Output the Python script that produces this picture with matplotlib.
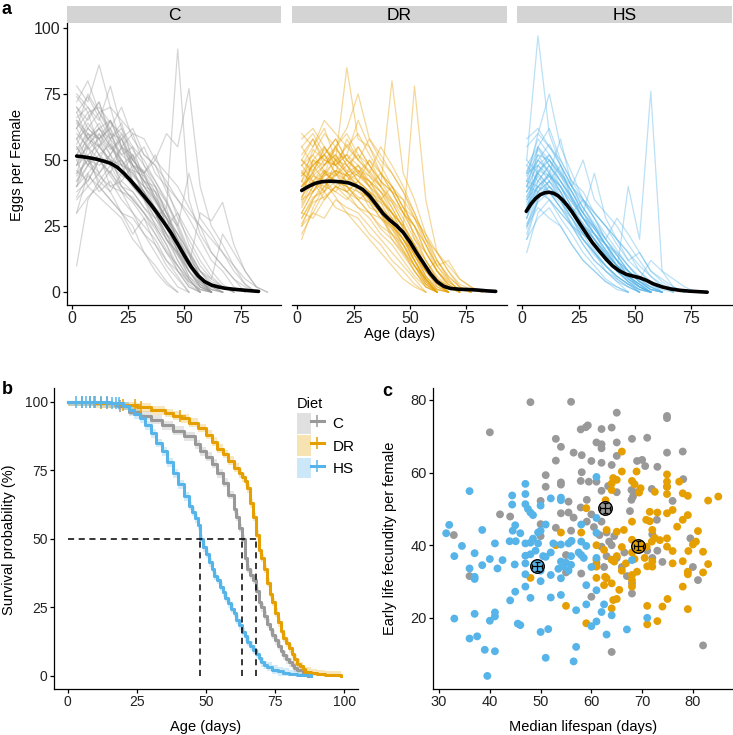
import numpy as np
import matplotlib

matplotlib.use("Agg")
import matplotlib.pyplot as plt  # noqa: E402
from matplotlib.patches import Patch  # noqa: E402
from matplotlib.lines import Line2D  # noqa: E402
from matplotlib.legend_handler import HandlerTuple  # noqa: E402

plt.rcParams["font.family"] = ["Liberation Sans", "DejaVu Sans"]

DIETS = ["C", "DR", "HS"]
COLORS = {"C": "#999999", "DR": "#E69F00", "HS": "#56B4E9"}

# ---- panel a: eggs per female, one line per female ----
AGE_GRID = [2, 7, 12, 17, 22, 27, 32, 37, 42, 47, 52, 57, 62, 67, 72, 77, 82, 87]

EGGS_C = [
    "45 58 62 55 50 42 38 30 22 12 5 0",
    "70 65 72 60 58 50 45 35 28 15 8 2 0",
    "38 42 50 45 40 35 30 25 18 10 3 0",
    "62 75 68 70 55 60 48 40 30 20 12 5 0",
    "55 48 52 40 38 30 22 15 8 2 0",
    "40 55 45 50 42 48 35 28 32 18 10 4 1 0",
    "75 70 65 78 62 55 50 42 35 25 15 8 3 0",
    "48 52 40 35 30 22 28 18 10 5 0",
    "65 60 58 62 48 52 40 38 25 30 18 10 5 2 0",
    "30 45 38 42 35 30 25 20 12 6 0",
    "58 66 72 58 64 50 55 45 40 28 20 12 6 2 0",
    "50 40 45 38 30 25 15 10 4 0",
    "72 80 68 62 70 58 52 48 38 30 22 15 8 3 0",
    "42 48 55 50 45 52 40 35 28 22 15 6 2 0",
    "10 35 42 38 45 40 35 30 20 15 8 3 0",
    "60 55 50 58 45 42 38 30 25 18 10 5 0",
    "52 62 58 65 55 50 45 52 40 35 28 20 12 8 2 0",
    "68 58 62 55 48 40 35 25 18 8 2 0",
    "45 50 42 48 40 35 30 22 15 10 5 0",
    "78 72 86 70 65 60 58 50 45 40 32 25 15 10 5 2 0",
    "35 40 36 32 28 20 15 8 3 0",
    "55 48 60 52 58 48 42 40 30 25 45 28 22 15 8 3 0",
    "62 68 55 60 50 45 38 32 28 20 12 5 0",
    "50 55 62 58 52 48 42 38 32 92 35 22 15 10 5 0",
    "40 45 50 45 55 48 45 50 60 55 77 40 25 18 10 3 0",
    "58 50 45 52 40 38 32 28 20 15 10 30 27 34 18 8 2 0",
    "65 58 52 48 55 42 38 30 22 18 12 8 5 22 15 8 2",
    "30 36 40 35 30 28 22 18 12 8 4 1 0",
    "48 60 55 65 58 62 52 48 42 35 30 25 20 15 10 5 2 0",
    "70 62 58 52 60 48 42 35 28 22 15 8 4 2 0",
    "52 58 55 50 48 45 40 32 25 15 6 1 0",
    "66 70 62 65 55 52 45 38 30 20 10 3 0",
    "44 50 48 52 46 40 36 30 22 14 6 2 0",
    "58 62 68 60 52 55 42 35 26 18 8 2 0",
    "36 44 40 46 38 34 28 22 15 8 2 0",
    "74 68 70 64 60 54 48 42 34 24 14 6 1 0",
    "48 56 60 54 58 46 44 36 30 22 12 4 0",
    "62 54 58 48 50 42 36 30 20 12 5 0",
    "40 48 44 40 42 38 32 26 20 14 8 3 0",
    "56 64 58 62 54 48 46 40 34 26 16 8 2 0",
    "68 74 66 58 62 50 44 36 28 18 10 4 0",
    "46 42 50 44 38 36 30 24 16 10 4 1 0",
    "54 60 52 56 50 44 40 34 28 20 14 6 2 0",
    "64 58 64 56 48 46 38 32 24 16 8 2 0",
    "42 52 56 48 44 42 36 28 22 16 10 5 1 0",
]

EGGS_DR = [
    "40 45 50 48 42 45 40 35 30 25 18 10 4 0",
    "25 35 40 38 45 40 35 30 20 15 8 3 0",
    "55 60 52 58 50 55 48 40 35 28 20 12 5 2 0",
    "30 38 45 50 55 60 52 45 40 32 25 15 8 3 0",
    "48 42 38 45 40 35 30 25 22 15 10 5 0",
    "35 50 55 48 52 45 50 42 38 30 22 12 5 0",
    "60 55 62 50 85 58 55 48 40 32 25 15 8 2 0",
    "22 30 28 35 32 30 25 20 15 10 5 0",
    "42 48 52 45 58 50 45 55 48 40 30 20 10 5 0",
    "38 42 35 40 38 32 28 22 18 12 6 2 0",
    "50 58 48 55 62 75 58 50 45 38 28 18 8 3 0",
    "28 35 42 38 35 40 32 30 25 20 15 8 3 0",
    "45 52 60 55 48 52 45 40 80 45 35 22 12 5 0",
    "33 40 45 42 40 35 38 30 28 22 18 10 5 2 0",
    "55 48 52 58 50 45 42 35 30 25 78 35 15 8 2 0",
    "40 45 38 50 45 55 48 42 35 30 25 18 10 4 1 0",
    "20 32 40 45 38 42 35 30 22 18 12 5 0",
    "48 55 65 60 55 50 58 52 45 38 30 20 12 6 2 0",
    "35 38 42 36 30 28 22 18 12 8 3 0",
    "45 42 48 52 45 48 40 45 38 35 28 22 15 8 3 1 0",
    "58 62 55 50 45 40 35 30 25 18 10 5 0",
    "30 28 35 40 45 42 38 35 40 32 28 20 15 10 5 2 0",
    "50 45 55 48 52 65 55 45 40 35 20 15 8 3 0",
    "38 50 45 42 38 35 30 28 25 20 14 8 12 6 2 0",
    "42 38 45 55 48 42 50 45 38 30 25 18 10 12 5 2 0",
    "25 30 38 32 30 25 20 15 10 5 2 0",
    "52 58 50 55 60 52 48 42 38 30 22 15 8 4 1 0",
    "40 48 52 45 42 48 42 38 30 25 18 12 6 2 0",
    "32 40 46 44 48 42 38 32 26 18 10 3 0",
    "44 50 48 52 46 44 40 36 28 20 12 4 0",
    "28 36 38 42 40 36 34 28 24 16 8 2 0",
    "50 46 54 50 52 48 44 38 32 24 14 6 1 0",
    "36 44 42 46 44 40 36 34 26 20 12 5 0",
    "42 54 50 48 56 50 46 40 34 26 16 6 2 0",
    "26 34 36 40 36 32 30 24 20 14 8 2 0",
    "46 40 44 50 48 44 42 36 30 22 14 8 2 0",
    "38 46 52 48 44 46 40 32 26 20 12 4 0",
    "34 42 40 44 50 46 42 38 34 26 18 8 3 0",
    "48 52 46 42 40 38 34 28 22 16 10 4 0",
    "30 38 44 46 42 40 36 32 28 22 14 6 1 0",
    "40 44 48 54 50 46 44 40 32 24 16 8 3 0",
    "44 48 42 46 44 38 36 30 24 18 10 3 0",
    "36 42 46 40 38 42 38 34 30 22 12 5 1 0",
]

EGGS_HS = [
    "30 45 40 35 28 20 15 10 5 2 0",
    "45 58 52 45 38 30 22 18 12 6 2 0",
    "20 35 42 35 25 18 12 8 4 0",
    "50 97 60 48 40 32 25 18 10 5 2 0",
    "35 40 38 32 25 20 15 10 6 3 0",
    "40 55 48 42 35 28 25 18 12 8 4 1 0",
    "28 38 45 40 32 25 20 12 8 4 0",
    "55 60 75 55 45 35 28 20 15 10 5 2 0",
    "15 30 35 28 22 15 10 5 2 0",
    "42 50 45 58 40 35 30 25 20 15 8 4 0",
    "38 45 52 45 38 30 45 28 20 12 8 3 0",
    "25 32 28 25 18 12 8 4 1 0",
    "48 55 62 50 42 38 30 25 20 15 10 6 3 0",
    "32 40 35 30 25 22 18 12 8 40 20 76 8 2 0",
    "45 48 42 38 30 25 20 15 10 5 2 0",
    "22 35 40 35 28 20 15 8 4 2 0",
    "58 62 55 50 42 35 28 20 14 8 4 1 0",
    "35 42 48 40 32 28 22 15 10 6 3 0",
    "40 38 35 30 25 18 12 8 5 2 0",
    "30 55 50 45 40 50 35 30 25 18 12 6 2 0",
    "50 45 40 35 30 22 18 12 8 4 1 0",
    "25 38 42 48 35 30 25 20 28 22 15 8 4 1 0",
    "45 52 45 38 30 35 30 25 18 12 15 8 5 2 0",
    "38 45 50 42 35 28 20 15 10 8 5 12 8 5 2 0",
    "20 28 32 25 18 12 8 4 2 0",
    "42 60 55 48 40 32 25 18 12 6 3 0",
    "33 40 45 38 30 25 22 18 15 10 6 3 1 0",
    "48 42 38 32 28 22 15 10 6 3 1 0",
    "34 46 44 40 32 26 20 14 8 4 1 0",
    "28 42 48 42 36 28 22 16 10 5 2 0",
    "40 52 50 44 38 30 24 18 12 6 3 0",
    "24 36 40 36 30 24 16 10 6 3 0",
    "44 50 46 40 34 28 22 16 12 8 4 2 0",
    "36 44 38 34 28 22 18 12 8 5 2 0",
    "30 48 52 46 38 32 26 20 14 8 4 1 0",
    "42 40 44 38 30 24 18 14 10 6 3 0",
    "26 34 38 32 26 20 14 10 6 3 1 0",
    "38 50 56 48 40 34 28 22 16 10 5 2 0",
    "46 54 48 42 36 30 24 18 12 8 4 1 0",
    "32 38 42 36 32 26 20 14 10 6 2 0",
    "36 46 50 44 36 28 22 16 10 6 3 1 0",
    "28 40 44 40 34 28 24 18 14 8 4 2 0",
    "40 48 44 36 30 24 20 14 8 4 2 0",
]

# smoothed mean trajectories
MEAN_AGE_C = [2, 5, 8, 11, 14, 17, 20, 23, 26, 29, 32, 35, 38, 41, 44, 47, 50, 53, 56,
              59, 62, 65, 68, 72, 76, 80, 83]
MEAN_C = [51.5, 51.2, 50.8, 50.3, 49.6, 48.8, 47.3, 45.0, 42.3, 39.3, 36.3, 33.2, 29.8,
          26.2, 22.5, 18.2, 13.8, 9.6, 6.3, 4.0, 2.7, 2.0, 1.5, 1.1, 0.8, 0.5, 0.3]
MEAN_AGE_DR = [2, 5, 8, 11, 14, 17, 20, 23, 26, 29, 32, 35, 38, 41, 44, 47, 50, 53, 56,
               59, 62, 65, 68, 72, 76, 80, 84, 88]
MEAN_DR = [38.5, 40.0, 41.2, 41.8, 42.0, 41.9, 41.7, 41.3, 40.3, 38.9, 36.5, 33.2, 29.8,
           27.3, 25.2, 22.6, 19.0, 14.8, 11.0, 7.0, 4.0, 2.2, 1.4, 1.1, 1.0, 0.8, 0.5, 0.3]
MEAN_AGE_HS = [1.8, 4, 6, 8, 10, 12, 14, 16, 18, 20, 22, 25, 28, 31, 34, 37, 40, 43, 46,
               49, 52, 55, 58, 62, 66, 70, 74, 78, 82]
MEAN_HS = [30.6, 33.5, 35.5, 36.9, 37.6, 37.8, 37.4, 36.4, 34.8, 32.8, 30.5, 26.6, 22.7,
           18.9, 15.7, 12.7, 10.0, 8.1, 6.8, 6.1, 5.5, 4.5, 3.2, 2.0, 1.2, 0.7, 0.4, 0.2,
           0.0]

# ---- panel b: Kaplan-Meier survival (%) ----
SURV_AGE_C = [0, 12, 18, 22, 26, 30, 34, 38, 42, 46, 48, 50, 52, 54, 56, 58, 60, 61,
              62, 63, 64, 65, 66, 67, 68, 69, 70, 71, 72, 73, 74, 75, 76, 77, 78, 79,
              80, 81, 82, 83, 85, 87]
SURV_C = [100, 99.5, 98.5, 96.5, 95, 93.5, 91.5, 89.5, 87.5, 84.5, 82, 80, 77.5, 74,
          70.5, 66, 61, 58, 54, 50, 43, 39, 37, 35, 31, 27, 25, 22, 19, 17, 15, 13,
          11, 9, 7.5, 6, 5, 4, 3, 2, 1, 0]
SURV_AGE_DR = [0, 10, 20, 25, 30, 35, 38, 41, 44, 47, 50, 52, 54, 56, 58, 60, 62, 63,
               64, 65, 66, 67, 68, 69, 70, 71, 72, 73, 74, 75, 76, 77, 78, 79, 80, 81,
               82, 83, 84, 85, 86, 88, 90, 93, 99]
SURV_DR = [100, 99.5, 98.8, 98, 97, 96, 95, 94, 92.5, 90.5, 88, 85.5, 83, 81, 78.5,
           76, 74, 72.5, 71, 68.5, 63, 58, 51.5, 46, 43, 39, 34, 30, 27, 23, 19.5,
           16.5, 14, 12, 10, 8, 6, 4.5, 3.5, 2.5, 1.5, 1, 0.6, 0.3, 0]
SURV_AGE_HS = [0, 15, 20, 22, 24, 26, 28, 30, 32, 34, 36, 38, 40, 42, 44, 45, 46, 47,
               48, 49, 50, 51, 52, 53, 54, 55, 56, 57, 58, 59, 60, 61, 62, 63, 64, 65,
               66, 67, 68, 69, 70, 71, 72, 74, 76, 78, 80, 83, 86, 88]
SURV_HS = [100, 99.5, 98.5, 97, 95.5, 94, 91.5, 88.5, 85, 82, 78, 74, 70, 65.5, 62,
           60, 57.5, 55, 50, 47, 44.5, 41.5, 39, 36.5, 35, 32.5, 30.5, 28.5, 26.5,
           24.5, 23, 20.5, 18.5, 16, 14.5, 12.5, 11, 9.5, 8, 6.5, 5, 4, 3.3, 2.3, 1.6,
           1.1, 0.7, 0.4, 0.2, 0]
CENSOR_C = [5, 8, 10, 14, 19]
CENSOR_DR = [12, 20, 24.2, 26.5, 40.5]
CENSOR_HS = [3, 5, 6.5, 8, 9.5, 12, 14, 16, 17.5, 18.5]
MEDIAN_LIFESPAN = {"C": 63, "DR": 68, "HS": 48}

# ---- panel c: per-cohort median lifespan vs early fecundity ----
C_X = [48, 56, 40, 65, 74.9, 74.9, 57.9, 58.9, 59.3, 62, 64, 53, 61, 62, 62, 54, 65, 68,
       71, 56.5, 58.1, 53, 60, 62, 64, 65, 69, 70, 70.6, 73, 74.9, 78, 58.1, 57.9, 59.5,
       61, 51, 54, 54, 51, 63.3, 62, 65, 67.9, 69, 71.9, 74.9, 78.1, 76, 67.9, 68.2,
       72.9, 67.6, 59.1, 59.1, 57.9, 56.5, 55.5, 54, 55.5, 50, 50, 44, 42, 53, 32.9, 36,
       50, 56, 55, 58, 55, 62, 64, 63, 61, 61.6, 60, 64, 68, 68, 67, 66, 71, 72, 73, 74,
       80, 81, 79.5, 82, 60.5, 63.5, 65, 62.5, 66.5, 72, 60, 62, 56, 64.5, 63]
C_Y = [79.4, 79.5, 71.1, 76.5, 75.6, 75, 71.9, 72.5, 73, 72, 72.4, 69.3, 68.3, 67.8,
       66.7, 67.1, 68.3, 69.3, 69.6, 65.5, 64.8, 63.3, 63.2, 62.7, 62.1, 64.6, 63.2,
       63.5, 61.8, 61.6, 65.5, 65.8, 60.1, 57.7, 57.5, 57.5, 59.3, 57.3, 56.7, 56.1,
       56.3, 55, 54.6, 55.2, 54.6, 55.5, 56.1, 58.2, 52.2, 52.5, 53.4, 47, 49.4, 52.5,
       46.5, 50.4, 47.6, 49, 48.8, 52, 52.2, 45.8, 47.9, 48.5, 44.8, 42.8, 31.5, 42.5,
       41.1, 37.3, 32.2, 32.5, 39.6, 40, 37, 35, 42.8, 25.8, 10.6, 26.7, 29.5, 31.5, 34,
       38.5, 36.5, 38.5, 35.4, 34, 30.4, 41.9, 12.4, 45, 41, 36.5, 34, 38, 43, 48.5,
       46.5, 44, 42.5, 43.5]

DR_X = [66, 66, 68.9, 64.3, 65, 64, 64, 68, 68.5, 69.7, 69.4, 72.5, 74.9, 74.9, 74.9,
        74.9, 77.3, 78, 79, 83, 85, 74.9, 76, 78, 79, 76.9, 73, 71.5, 71.5, 70.8, 72, 63,
        65, 59, 62.8, 81, 68, 66.4, 72.5, 73.5, 74.9, 70.9, 71.9, 74.9, 76, 79.1, 78, 79,
        79, 78, 80, 80.6, 82, 82, 83, 79, 75, 74, 73, 71, 71, 72, 72, 71, 69, 68, 68, 68,
        66.8, 65.5, 64.3, 65, 64, 64, 62.5, 63, 61, 62.7, 61, 61, 62.5, 64, 65, 64.5, 59,
        55, 54, 53, 48, 58, 61, 66, 68, 68, 69, 76, 66, 68.5, 70.5]
DR_Y = [65.8, 60.3, 60.3, 58.5, 58, 57, 55.2, 57.7, 56.8, 55.7, 54.5, 54.7, 59.5, 57.5,
        56.1, 54.1, 57.5, 54.3, 53.6, 52.3, 53.4, 48.8, 49.7, 47, 48.3, 45.1, 49, 49.2,
        46.6, 47, 44.2, 44.2, 43.7, 50.2, 52.4, 43.9, 46.5, 44.2, 42, 41.4, 41.9, 39.6,
        41, 39.6, 38.4, 38.4, 35.6, 32.7, 32, 28.6, 40.2, 41, 38.2, 32.5, 34.8, 22.4,
        25.2, 23.1, 19.1, 18.2, 23.3, 35.5, 34.1, 34.2, 32.7, 31.8, 30.4, 28.6, 35, 27.7,
        24.9, 25.2, 22.6, 29.5, 29, 30.9, 31, 31.3, 36, 34.1, 38.7, 36, 37, 35.5, 18.5,
        23.3, 43.5, 40, 31, 43.5, 40, 39.5, 41.5, 38, 39, 35, 33, 36.2, 36.5]

HS_X = [36, 47, 44.4, 47, 44.4, 47, 47.5, 48, 48.5, 50, 52, 54, 54, 61, 32, 31.4, 38.5,
        44.5, 45, 43.9, 45.1, 46, 47, 48, 48.5, 49.5, 49.5, 50, 51, 52.5, 54, 55.5, 56.1,
        58, 61, 61, 58, 59, 57.5, 58, 33, 34.5, 37, 36, 37, 37, 38.5, 40, 41.5, 42.5, 41,
        44.9, 47, 47, 48, 47, 47, 45, 44, 48, 50, 52, 52, 54, 54, 51, 52, 54, 54.5, 55,
        55.5, 56, 53.5, 57, 59, 59, 61, 62, 62.5, 60, 61, 64, 63, 57, 56.5, 51, 51.5, 50,
        45.5, 46, 41, 41, 40, 37, 33, 36, 37.5, 39, 41, 39.5, 67, 71, 68, 60, 58.5, 56,
        61, 49, 50.5, 50]
HS_Y = [54.9, 56.9, 53.7, 54.1, 51.2, 51.3, 50, 49, 48.3, 50.9, 52.9, 53.1, 52.4, 58.8,
        45.6, 43.3, 44.2, 44, 45.5, 41.1, 41.1, 43.3, 40.5, 40.7, 41.8, 40.5, 43.5, 44,
        45.7, 40.5, 40.2, 40.5, 41.2, 45.7, 47.5, 43.4, 41, 39.8, 38, 37.3, 37, 39.8,
        37.8, 33.6, 31.3, 30.7, 34.5, 36.2, 33.6, 35.9, 40.5, 34.7, 37.1, 35, 37.5, 32,
        28.6, 27.2, 24.8, 25.5, 30.1, 31.8, 25.6, 26.3, 30.9, 36.8, 38, 35.5, 34.2, 35.2,
        33, 34.6, 33.5, 22.1, 29, 23.7, 27.6, 21.6, 23.7, 17.7, 19, 20.7, 15.4, 12, 8, 9,
        16.9, 16.1, 18.4, 18, 21.5, 20.4, 19.2, 21.1, 19.8, 14.3, 14.9, 11.2, 10.8, 4,
        16.8, 20, 35.9, 34, 36.5, 37, 36.5, 38.5, 37, 33]

# diet means shown as big circles with error bars
MEAN_LIFESPAN = [62.7, 69.2, 49.3]
MEAN_FECUNDITY = [50.3, 39.9, 34.2]
SE_LIFESPAN = [1.0, 0.9, 1.0]
SE_FECUNDITY = [1.3, 1.2, 1.2]

W, H = 733, 735


def box(left, top, right, bottom):
    return [left / W, 1 - bottom / H, (right - left) / W, (bottom - top) / H]


def style(ax, left=True, labelsize=10):
    for s in ("top", "right"):
        ax.spines[s].set_visible(False)
    ax.spines["bottom"].set_linewidth(0.9)
    ax.spines["left"].set_linewidth(0.9)
    ax.tick_params(length=3, width=0.9, labelsize=labelsize, color="black",
                   labelcolor="#222222", pad=1.5)
    if not left:
        ax.spines["left"].set_visible(False)
        ax.tick_params(axis="y", left=False, labelleft=False)


fig = plt.figure(figsize=(W / 100, H / 100), dpi=100)

# ---------------- panel a ----------------
facet_px = {"C": (67, 281), "DR": (292, 507), "HS": (517, 732)}
eggs = {"C": EGGS_C, "DR": EGGS_DR, "HS": EGGS_HS}
means = {"C": (MEAN_AGE_C, MEAN_C), "DR": (MEAN_AGE_DR, MEAN_DR),
         "HS": (MEAN_AGE_HS, MEAN_HS)}
for d in DIETS:
    l, r = facet_px[d]
    ax = fig.add_axes(box(l, 23, r, 305))
    for row in eggs[d]:
        vals = [float(v) for v in row.split()]
        ax.plot(AGE_GRID[:len(vals)], vals, color=COLORS[d], alpha=0.4, lw=0.9)
    ax.plot(*means[d], color="black", lw=2.6, solid_capstyle="round")
    ax.set_xlim(-2.3, 93)
    ax.set_ylim(-4.85, 101.85)
    ax.set_xticks([0, 25, 50, 75])
    ax.set_yticks([0, 25, 50, 75, 100])
    style(ax, left=(d == "C"), labelsize=11.5)
    strip = fig.add_axes(box(l, 6, r, 23))
    strip.set_facecolor("#d4d4d4")
    strip.set_xticks([])
    strip.set_yticks([])
    for s in strip.spines.values():
        s.set_visible(False)
    strip.text(0.5, 0.45, d, ha="center", va="center", fontsize=12.5,
               transform=strip.transAxes)

fig.text(400 / W, 1 - 334 / H, "Age (days)", ha="center", va="center", fontsize=10.5)
fig.text(17 / W, 1 - 165 / H, "Eggs per Female", ha="center", va="center",
         rotation=90, fontsize=10.5)

# ---------------- panel b ----------------
axb = fig.add_axes(box(54, 388, 358, 689))
surv = {"C": (SURV_AGE_C, SURV_C), "DR": (SURV_AGE_DR, SURV_DR),
        "HS": (SURV_AGE_HS, SURV_HS)}
censor = {"C": CENSOR_C, "DR": CENSOR_DR, "HS": CENSOR_HS}
for d in DIETS:
    age, s = np.array(surv[d][0]), np.array(surv[d][1])
    axb.fill_between(age, np.clip(s - 1.6, 0, 100), np.clip(s + 1.6, 0, 100),
                     step="post", color=COLORS[d], alpha=0.25, lw=0)
    axb.step(age, s, where="post", color=COLORS[d], lw=2.2)
    cx = np.array(censor[d])
    cy = s[np.searchsorted(age, cx, side="right") - 1]
    axb.plot(cx, cy, ls="none", marker="+", ms=8, mew=1.1, color=COLORS[d])

top_med = max(MEDIAN_LIFESPAN.values())
axb.plot([0, top_med], [50, 50], color="black", ls=(0, (4, 3)), lw=1.1)
for d in DIETS:
    m = MEDIAN_LIFESPAN[d]
    axb.plot([m, m], [0, 50], color="black", ls=(0, (4, 3)), lw=1.1)

axb.set_xlim(-5, 105)
axb.set_ylim(-4.8, 105.1)
axb.set_xticks([0, 25, 50, 75, 100])
axb.set_yticks([0, 25, 50, 75, 100])
style(axb)

handles = [(Patch(facecolor=COLORS[d], alpha=0.3, edgecolor="none"),
            Line2D([], [], color=COLORS[d], lw=2.2, marker="+", ms=8, mew=1.1))
           for d in DIETS]
leg = axb.legend(handles, DIETS, handler_map={tuple: HandlerTuple(ndivide=None, pad=0)},
                 title="Diet", loc="upper left", bbox_to_anchor=(0.78, 0.99),
                 frameon=False, handlelength=1.75, handleheight=1.7,
                 labelspacing=0.12, handletextpad=0.55, fontsize=11,
                 title_fontsize=10.5, borderaxespad=0)
leg._legend_box.align = "left"

fig.text(206 / W, 1 - 727 / H, "Age (days)", ha="center", va="center", fontsize=10.5)
fig.text(9 / W, 1 - 540 / H, "Survival probability (%)", ha="center", va="center",
         rotation=90, fontsize=10.5)

# ---------------- panel c ----------------
axc = fig.add_axes(box(433, 388, 733, 689))
pts = {"C": (C_X, C_Y), "DR": (DR_X, DR_Y), "HS": (HS_X, HS_Y)}
for d in DIETS:
    axc.scatter(*pts[d], s=32, color=COLORS[d], edgecolors="none", zorder=2)
for i, d in enumerate(DIETS):
    axc.scatter(MEAN_LIFESPAN[i], MEAN_FECUNDITY[i], s=95, color=COLORS[d],
                edgecolors="black", linewidths=1.0, zorder=4)
    axc.errorbar(MEAN_LIFESPAN[i], MEAN_FECUNDITY[i], xerr=SE_LIFESPAN[i],
                 yerr=SE_FECUNDITY[i], fmt="none", ecolor="black", elinewidth=0.9,
                 capsize=1.8, capthick=0.9, zorder=5)
axc.set_xlim(28.8, 87.9)
axc.set_ylim(0.4, 83.3)
axc.set_xticks([30, 40, 50, 60, 70, 80])
axc.set_yticks([20, 40, 60, 80])
style(axc, labelsize=10.5)
fig.text(583 / W, 1 - 727 / H, "Median lifespan (days)", ha="center", va="center",
         fontsize=10.5)
fig.text(390 / W, 1 - 538 / H, "Early life fecundity per female", ha="center",
         va="center", rotation=90, fontsize=10.5)

# panel letters
for letter, x, y in [("a", 2, 1), ("b", 2, 381), ("c", 382, 383)]:
    fig.text(x / W, 1 - y / H, letter, ha="left", va="top", fontsize=13,
             fontweight="bold")

fig.savefig("out.png", dpi=100)
